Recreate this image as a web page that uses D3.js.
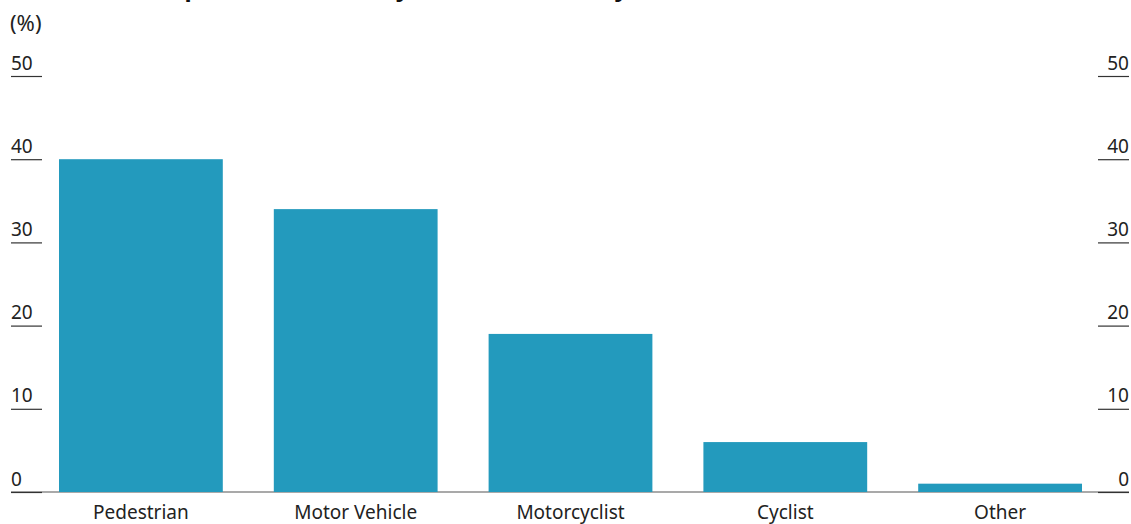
<!DOCTYPE html>
<html>
<head>
<meta charset="utf-8">
<script src="https://cdn.jsdelivr.net/npm/d3@7"></script>
<style>
  html, body { margin: 0; padding: 0; background: #fff; }
  svg { display: block; font-family: "Noto Sans", "Open Sans", sans-serif; }
</style>
</head>
<body>
<svg id="chart" width="1131" height="524"></svg>
<script>
const categories = ["Pedestrian", "Motor Vehicle", "Motorcyclist", "Cyclist", "Other"];
const values = [40, 34, 19, 6, 1];
const tickValues = [0, 10, 20, 30, 40, 50];
const unitLabel = "(%)";
const titleText = "Road deaths, split of fatalities, by road user, 2023 by";

const W = 1131, H = 524;
const svg = d3.select("#chart");

const y = d3.scaleLinear().domain([0, 50]).range([492, 76]);
const x = d3.scaleBand().domain(categories).range([33.5, 1107.5])
  .paddingInner(0.2375).paddingOuter(0.11875);

const textColor = "#222";
const barColor = "#239abd";

// clipped title (mostly above the visible area)
svg.append("text").attr("x", 11).attr("y", -4)
  .attr("font-size", 24).attr("font-weight", 700).attr("fill", "#111")
  .text(titleText);

svg.append("text").attr("x", 10).attr("y", 31)
  .attr("font-size", 22).attr("fill", textColor).text(unitLabel);

// baseline
svg.append("line").attr("x1", 11).attr("x2", 1129)
  .attr("y1", y(0)).attr("y2", y(0))
  .attr("stroke", "#8c8c8c").attr("stroke-width", 1.5);

// bars
svg.append("g").selectAll("rect").data(categories).join("rect")
  .attr("x", d => x(d))
  .attr("width", x.bandwidth())
  .attr("y", (d, i) => y(values[i]))
  .attr("height", (d, i) => y(0) - y(values[i]))
  .attr("fill", barColor);

// left axis
const leftAxis = d3.axisLeft(y).tickValues(tickValues).tickSize(31).tickFormat(d3.format("d"));
const gl = svg.append("g").attr("transform", "translate(42,0)").call(leftAxis);
gl.select(".domain").remove();
gl.selectAll(".tick line").attr("stroke", "#333").attr("stroke-width", 1.2);
gl.selectAll(".tick text").attr("x", -31).attr("dy", "-0.36em")
  .attr("text-anchor", "start").attr("font-size", 19)
  .attr("font-family", "'Noto Sans', 'Open Sans', sans-serif").attr("fill", textColor);

// right axis
const rightAxis = d3.axisRight(y).tickValues(tickValues).tickSize(31).tickFormat(d3.format("d"));
const gr = svg.append("g").attr("transform", "translate(1098,0)").call(rightAxis);
gr.select(".domain").remove();
gr.selectAll(".tick line").attr("stroke", "#333").attr("stroke-width", 1.2);
gr.selectAll(".tick text").attr("x", 31).attr("dy", "-0.36em")
  .attr("text-anchor", "end").attr("font-size", 19)
  .attr("font-family", "'Noto Sans', 'Open Sans', sans-serif").attr("fill", textColor);

// bottom axis labels
const bottomAxis = d3.axisBottom(x).tickSize(0).tickPadding(14);
const gb = svg.append("g").attr("transform", `translate(0,${y(0)})`).call(bottomAxis);
gb.select(".domain").remove();
gb.selectAll(".tick text").attr("font-size", 19)
  .attr("font-family", "'Noto Sans', 'Open Sans', sans-serif").attr("fill", textColor);
</script>
</body>
</html>
